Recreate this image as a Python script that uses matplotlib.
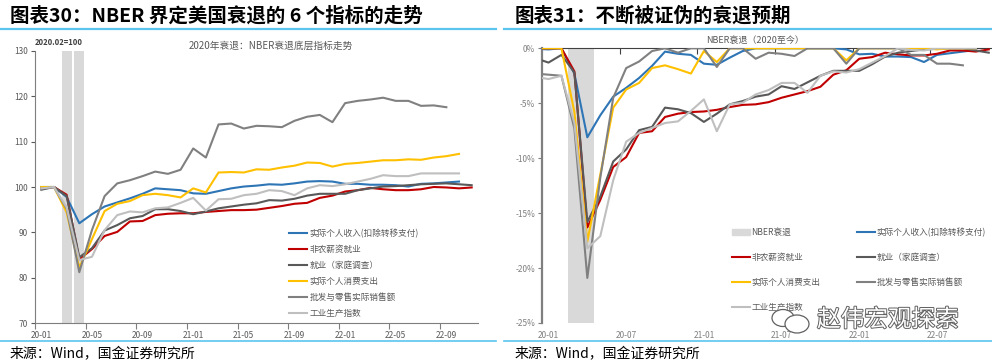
import numpy as np
import matplotlib
matplotlib.use("Agg")
import matplotlib.pyplot as plt
from matplotlib.lines import Line2D
from matplotlib.patches import Patch, Ellipse
import matplotlib.patheffects as pe

plt.rcParams['font.family'] = ['Noto Sans CJK SC', 'DejaVu Sans']

# ---- 数据：左图（2020.02=100），月度 2020-01 起 ----
months_l = ['20-01', '20-02', '20-03', '20-04', '20-05', '20-06', '20-07', '20-08', '20-09', '20-10',
            '20-11', '20-12', '21-01', '21-02', '21-03', '21-04', '21-05', '21-06', '21-07', '21-08',
            '21-09', '21-10', '21-11', '21-12', '22-01', '22-02', '22-03', '22-04', '22-05', '22-06',
            '22-07', '22-08', '22-09', '22-10', '22-11']
recession = ['20-03', '20-04']

inc_l = [100.0, 100, 97.8, 92.0, 94.0, 95.7, 96.6, 97.5, 98.5, 99.7, 99.5, 99.3, 98.6, 98.5, 99.1,
         99.7, 100.1, 100.3, 100.6, 100.5, 100.8, 101.2, 101.3, 101.2, 100.7, 100.7, 100.5, 100.5,
         100.4, 100.1, 100.7, 100.8, 101.0, 101.2]
nfp_l = [99.8, 100, 98.3, 84.0, 86.3, 89.2, 90.1, 92.4, 92.5, 93.8, 94.1, 94.2, 94.2, 94.5, 94.7,
         94.9, 94.9, 95.0, 95.4, 95.8, 96.3, 96.5, 97.6, 98.1, 99.0, 99.3, 99.8, 99.5, 99.3, 99.3,
         99.5, 100.0, 99.9, 99.7, 99.9]
hh_l = [99.4, 100, 98.0, 84.5, 86.5, 90.4, 91.6, 93.1, 93.6, 95.1, 95.1, 94.7, 94.0, 94.6, 95.3,
        95.7, 96.1, 96.4, 97.1, 97.0, 97.4, 98.1, 98.5, 98.5, 98.5, 99.3, 99.7, 100.1, 100.2, 100.4,
        100.6, 100.7, 100.8, 100.6, 100.4]
pce_l = [100.0, 100, 94.4, 82.2, 88.5, 94.7, 96.3, 96.9, 98.2, 98.5, 98.2, 97.7, 99.7, 98.8, 103.2,
         103.3, 103.2, 103.9, 103.8, 104.3, 104.7, 105.4, 105.3, 104.5, 105.1, 105.3, 105.6, 105.9,
         105.9, 106.1, 106.0, 106.5, 106.8, 107.3]
retail_l = [99.6, 100, 95.2, 81.2, 90.5, 98.0, 100.8, 101.5, 102.4, 103.4, 102.9, 103.8, 108.5, 106.5,
            113.8, 114.0, 112.9, 113.5, 113.4, 113.2, 114.6, 115.5, 115.9, 114.3, 118.5, 119.0, 119.3,
            119.7, 119.0, 119.0, 117.9, 118.0, 117.6]
ip_l = [99.7, 100, 95.5, 83.9, 84.6, 90.5, 93.8, 94.6, 94.4, 95.3, 95.5, 96.5, 97.6, 94.8, 97.3,
        97.4, 98.2, 98.5, 99.3, 99.1, 98.2, 99.7, 100.4, 100.2, 100.6, 101.2, 101.8, 102.6, 102.4,
        102.4, 103.0, 103.0, 103.0, 103.0]

# ---- 数据：右图（距前高回撤 %），月度 2019-12 起 ----
months_r = ['19-12'] + months_l
inc_r = [-0.05, -0.1, 0, -2.3, -8.1, -6.1, -4.4, -3.6, -2.7, -1.6, -0.3, -0.5, -0.6, -1.4, -1.5,
         -0.85, -0.25, 0, 0, 0, 0, 0, 0, 0, -0.1, -0.55, -0.5, -0.75, -0.75, -0.8, -1.25, -0.6,
         -0.45, -0.3, -0.15]
nfp_r = [0, 0, 0, -2.1, -16.3, -13.8, -10.8, -9.9, -7.7, -7.55, -6.25, -5.95, -5.8, -5.75, -5.6,
         -5.35, -5.15, -5.1, -4.9, -4.5, -4.2, -3.9, -3.5, -2.4, -2.0, -0.95, -0.8, -0.4, -0.55,
         -0.65, -0.65, -0.5, -0.2, -0.2, -0.3, -0.1]
hh_r = [-0.9, -1.3, -0.6, -2.2, -15.8, -13.5, -10.3, -9.2, -7.45, -7.15, -5.4, -5.55, -5.9, -6.7,
        -5.95, -5.1, -4.8, -4.4, -4.2, -3.45, -3.7, -3.1, -2.5, -2.05, -2.05, -2.05, -1.45, -0.75,
        -0.4, -0.25, -0.1, -0.05, 0, 0, -0.2, -0.4]
pce_r = [0, 0, 0, -5.8, -17.6, -11.5, -5.4, -3.75, -3.15, -1.8, -1.55, -1.9, -2.3, -0.25, -1.25,
         0, 0, 0, 0, 0, 0, 0, 0, 0, -1.1, 0, 0, 0, 0, 0, 0, -0.1, 0, 0, 0]
retail_r = [-2.3, -2.4, -2.5, -7.3, -20.9, -11.8, -4.5, -1.8, -1.2, -0.25, 0, -0.4, 0, 0, -1.7,
            0, 0, -0.95, -0.4, -0.5, -0.7, 0, 0, 0, -1.4, 0, 0, 0, 0, -0.6, -0.6, -1.4, -1.4, -1.55]
ip_r = [-2.6, -2.8, -2.5, -6.8, -18.2, -17.1, -12.0, -8.5, -7.7, -7.25, -6.8, -6.65, -5.7, -4.65,
        -7.55, -5.1, -4.95, -4.2, -3.8, -3.15, -3.15, -4.05, -2.5, -2.1, -2.2, -1.9, -1.3, -0.7,
        0, -0.15, -0.2, 0, 0, 0, 0]

names = ['实际个人收入(扣除转移支付)', '非农薪资就业', '就业（家庭调查）',
         '实际个人消费支出', '批发与零售实际销售额', '工业生产指数']
colors = ['#2E75B6', '#C00000', '#595959', '#FFC000', '#808080', '#BFBFBF']

W, H = 992, 364
fig = plt.figure(figsize=(W / 100, H / 100), dpi=100)
TXT = '#595959'


def fx(px):
    return px / W


def fy(py):
    return 1 - py / H


# ---------------- 左图 ----------------
ax1 = fig.add_axes([fx(35), fy(323), fx(478 - 35), (323 - 51) / H])
xl = np.arange(len(months_l))
rec_x = [months_l.index(m) for m in recession]
ax1.bar(rec_x, [60] * len(rec_x), bottom=70, width=0.8, color='#D9D9D9', zorder=1)
series_l = [inc_l, nfp_l, hh_l, pce_l, retail_l, ip_l]
for s, c, n in zip(series_l, colors, names):
    ax1.plot(xl[:len(s)], s, color=c, lw=1.5, label=n, zorder=3)

ax1.set_xlim(-0.5, 34.5)
ax1.set_ylim(70, 130)
ax1.set_yticks(range(70, 131, 10))
ax1.set_xticks(xl[::4])
ax1.set_xticklabels(months_l[::4])
ax1.set_xticks(np.arange(-0.5, 32, 4), minor=True)
ax1.tick_params(axis='x', which='major', length=0, labelsize=6, colors=TXT, pad=6)
ax1.tick_params(axis='x', which='minor', length=4, color='#7F7F7F', width=0.8)
ax1.tick_params(axis='y', length=3, labelsize=6, colors=TXT, pad=2)
for sp in ['top', 'right']:
    ax1.spines[sp].set_visible(False)
for sp in ['left', 'bottom']:
    ax1.spines[sp].set_color('#7F7F7F')
    ax1.spines[sp].set_linewidth(0.8)

ax1.text(0.0, 1.03, '2020.02=100', transform=ax1.transAxes, fontsize=5.5, color='#404040',
         fontweight='bold', va='center', ha='left')
fig.text(fx(271), fy(46), '2020年衰退：NBER衰退底层指标走势', fontsize=7, color=TXT,
         ha='center', va='center')
leg1 = ax1.legend(loc='upper left', bbox_to_anchor=(fx(281), fy(221)),
                  bbox_transform=fig.transFigure, frameon=False, fontsize=6.2,
                  handlelength=2.1, handletextpad=0.3, labelspacing=0.8)
for t in leg1.get_texts():
    t.set_color(TXT)

# ---------------- 右图 ----------------
ax2 = fig.add_axes([fx(542), fy(323), fx(992 - 542), (323 - 48.3) / H])
xr = np.arange(len(months_r)) - 1
rec_r = [months_l.index(m) for m in recession]
ax2.bar(rec_r, [-25] * len(rec_r), width=1.0, color='#D9D9D9', zorder=1, label='NBER衰退')
series_r = [inc_r, nfp_r, hh_r, pce_r, retail_r, ip_r]
lines_r = []
for s, c, n in zip(series_r, colors, names):
    ln, = ax2.plot(xr[:len(s)], s, color=c, lw=1.5, label=n, zorder=3)
    lines_r.append(ln)

ax2.set_xlim(-0.5, 34.25)
ax2.set_ylim(-25, 0)
ax2.set_yticks(range(-25, 1, 5))
ax2.set_yticklabels([f'{v}%' for v in range(-25, 1, 5)])
ax2.set_xticks(xl[::6])
ax2.set_xticklabels(months_l[::6])
ax2.set_xticks(np.arange(5.5, 34, 6), minor=True)
ax2.tick_params(axis='x', which='major', length=0, labelsize=6, colors='#7F7F7F', pad=6)
ax2.tick_params(axis='x', which='minor', bottom=False, top=True, direction='in', length=4,
                color='#404040', width=0.8)
ax2.tick_params(axis='y', length=3, labelsize=6, colors='#7F7F7F', pad=2)
for sp in ['bottom', 'right']:
    ax2.spines[sp].set_visible(False)
ax2.spines['left'].set_color('#7F7F7F')
ax2.spines['left'].set_linewidth(1.6)
ax2.spines['top'].set_color('#404040')
ax2.spines['top'].set_linewidth(0.8)

fig.text(fx(755), fy(40), 'NBER衰退（2020至今）', fontsize=6.5, color=TXT, ha='center', va='center')

shade_h = Patch(color='#D9D9D9')
handles = [shade_h, lines_r[1], lines_r[3], lines_r[5], lines_r[0], lines_r[2], lines_r[4]]
labels = ['NBER衰退', names[1], names[3], names[5], names[0], names[2], names[4]]
leg2 = ax2.legend(handles, labels, loc='upper left', bbox_to_anchor=(fx(724), fy(220)),
                  bbox_transform=fig.transFigure, ncol=2, frameon=False, fontsize=6.2,
                  handlelength=2.1, handletextpad=0.2, labelspacing=1.85, columnspacing=4.2)
for t in leg2.get_texts():
    t.set_color(TXT)

# ---------------- 标题、分隔线、来源 ----------------
fig.text(fx(10), fy(16), '图表30：NBER 界定美国衰退的 6 个指标的走势', fontsize=14,
         fontweight='bold', ha='left', va='center')
fig.text(fx(515), fy(16), '图表31：不断被证伪的衰退预期', fontsize=14,
         fontweight='bold', ha='left', va='center')
for x0, x1 in [(0, 496), (504, 992)]:
    fig.add_artist(Line2D([fx(x0), fx(x1)], [fy(28.5)] * 2, color='#5BC5F0', lw=1.6))
    fig.add_artist(Line2D([fx(x0), fx(x1)], [fy(341)] * 2, color='#5BC5F0', lw=1.2))
fig.text(fx(10), fy(354), '来源：Wind，国金证券研究所', fontsize=10, ha='left', va='center')
fig.text(fx(515), fy(354), '来源：Wind，国金证券研究所', fontsize=10, ha='left', va='center')

# 水印
wm = fig.text(fx(888), fy(320), '赵伟宏观探索', fontsize=17, color='white', ha='center',
              va='center', zorder=10)
wm.set_path_effects([pe.withStroke(linewidth=1.4, foreground='#606060')])
for (cx, cy, w, h) in [(783, 318, 22, 17), (797, 324, 24, 18)]:
    fig.add_artist(Ellipse((fx(cx), fy(cy)), fx(w), h / H, facecolor='white',
                           edgecolor='#606060', lw=0.9, zorder=10))

fig.savefig('out.png', dpi=100)
